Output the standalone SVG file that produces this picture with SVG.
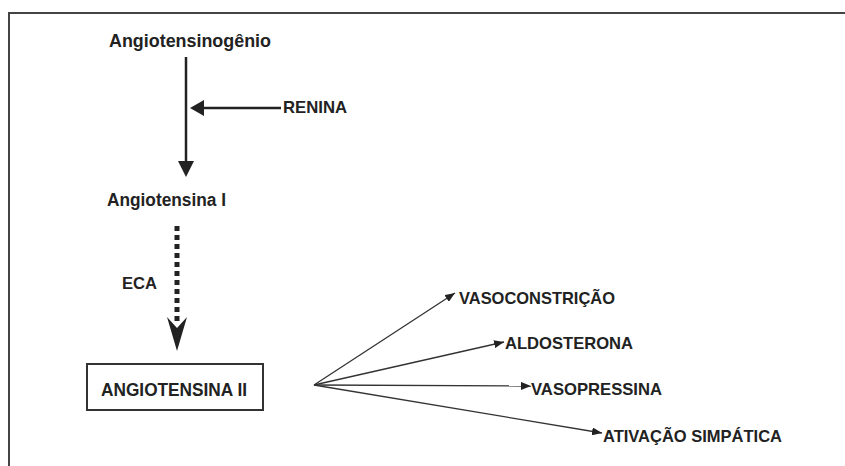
<svg xmlns="http://www.w3.org/2000/svg" width="845" height="466" viewBox="0 0 845 466">
<style>
  text { font-family: "Liberation Sans", Arial, sans-serif; font-weight: bold; fill: #222; }
  .big { font-size: 18px; }
  .lbl { font-size: 17px; }
  .thick { stroke: #222; stroke-width: 2.5; fill: none; }
  .thin { stroke: #333; stroke-width: 1.3; fill: none; }
</style>
<defs>
  <marker id="small" viewBox="0 0 10 8" refX="10" refY="4" markerWidth="10" markerHeight="8" markerUnits="userSpaceOnUse" orient="auto">
    <path d="M0,0 L10,4 L0,8 Z" fill="#222"/>
  </marker>
</defs>
<rect width="845" height="466" fill="#fff"/>
<path d="M9,466 V13 H845" fill="none" stroke="#444" stroke-width="2"/>

<g id="angiotensinogenio">
  <text class="big" x="109" y="47" textLength="162" lengthAdjust="spacingAndGlyphs">Angiotensinogênio</text>
</g>
<g id="renina">
  <text class="lbl" x="283" y="113" textLength="64" lengthAdjust="spacingAndGlyphs">RENINA</text>
</g>
<g id="angiotensina1">
  <text class="big" x="107" y="206" textLength="119" lengthAdjust="spacingAndGlyphs">Angiotensina I</text>
</g>
<g id="eca">
  <text class="lbl" x="122" y="289" textLength="35" lengthAdjust="spacingAndGlyphs">ECA</text>
</g>
<g id="angiotensina2">
  <rect x="87" y="364" width="176" height="46" fill="#fff" stroke="#333" stroke-width="2"/>
  <text class="big" x="101" y="396" textLength="146" lengthAdjust="spacingAndGlyphs">ANGIOTENSINA II</text>
</g>
<g id="vasoconstricao">
  <text class="lbl" x="459" y="304" textLength="156" lengthAdjust="spacingAndGlyphs">VASOCONSTRIÇÃO</text>
</g>
<g id="aldosterona">
  <text class="lbl" x="505" y="349" textLength="128" lengthAdjust="spacingAndGlyphs">ALDOSTERONA</text>
</g>
<g id="vasopressina">
  <text class="lbl" x="531" y="395" textLength="131" lengthAdjust="spacingAndGlyphs">VASOPRESSINA</text>
</g>
<g id="ativacao">
  <text class="lbl" x="603" y="442" textLength="179" lengthAdjust="spacingAndGlyphs">ATIVAÇÃO SIMPÁTICA</text>
</g>

<g id="connectors">
  <!-- Angiotensinogenio -> Angiotensina I -->
  <line class="thick" x1="186" y1="57" x2="186" y2="164"/>
  <path d="M178,161 L194,161 L186,177 Z" fill="#222"/>
  <!-- Renina -> main arrow -->
  <line class="thick" x1="281" y1="108" x2="200" y2="108"/>
  <path d="M204,100 L204,116 L190,108 Z" fill="#222"/>
  <!-- ECA dotted arrow -->
  <line x1="177" y1="226" x2="177" y2="324" stroke="#222" stroke-width="5" stroke-dasharray="5 4"/>
  <path d="M177,351 L167,317 L177,328 L187,317 Z" fill="#222"/>
  <!-- fan from Angiotensina II -->
  <line class="thin" x1="314" y1="385" x2="455" y2="293" marker-end="url(#small)"/>
  <line class="thin" x1="314" y1="385" x2="504" y2="342" marker-end="url(#small)"/>
  <line class="thin" x1="314" y1="385" x2="531" y2="386" marker-end="url(#small)"/>
  <line class="thin" x1="314" y1="385" x2="602" y2="433" marker-end="url(#small)"/>
</g>
</svg>
